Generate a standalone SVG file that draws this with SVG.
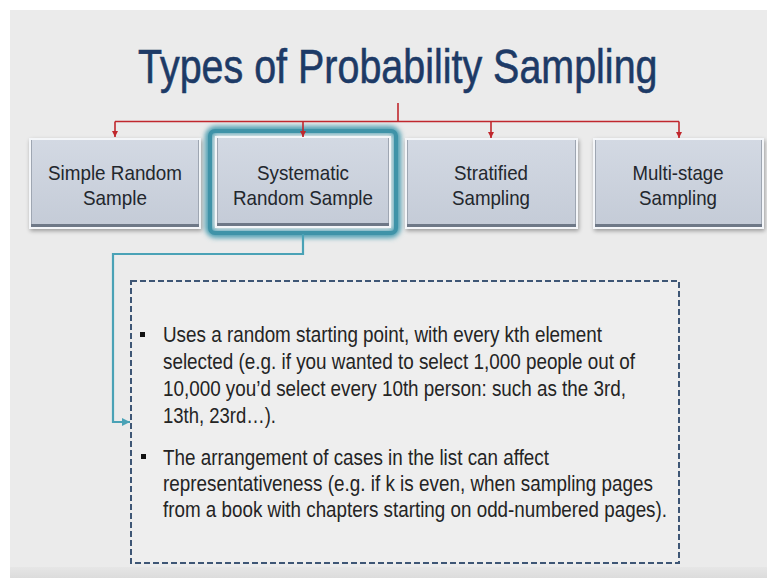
<svg xmlns="http://www.w3.org/2000/svg" width="767" height="578" viewBox="0 0 767 578">
  <defs>
    <style>
      .title { font-family: "Liberation Sans", Arial, sans-serif; font-size: 49px; fill: #1d3a66; stroke: #1d3a66; stroke-width: 0.6; }
      .label { font-family: "Liberation Sans", Arial, sans-serif; font-size: 21px; fill: #23272d; text-anchor: middle; }
      .body { font-family: "Liberation Sans", Arial, sans-serif; font-size: 22.5px; fill: #242424; }
      .tree { fill: none; stroke: #c0272d; stroke-width: 1.6; }
      .link { fill: none; stroke: #4aa2b6; stroke-width: 2.2; }
      .box-face { fill: url(#face); stroke: #f4f6f9; stroke-width: 2; }
      .box-base { stroke: #6e7887; stroke-width: 3; }
      .box-side { stroke: #9ea6b2; stroke-width: 1; }
    </style>
    <linearGradient id="face" x1="0" y1="0" x2="0" y2="1">
      <stop offset="0" stop-color="#d3d9e3"/>
      <stop offset="1" stop-color="#c4cbd7"/>
    </linearGradient>
    <linearGradient id="floor" x1="0" y1="0" x2="0" y2="1">
      <stop offset="0" stop-color="#e6e6e6"/>
      <stop offset="1" stop-color="#dcdcdc"/>
    </linearGradient>
    <filter id="shadow" x="-10%" y="-10%" width="120%" height="130%">
      <feGaussianBlur in="SourceAlpha" stdDeviation="2"/>
      <feOffset dx="1" dy="2" result="b"/>
      <feComponentTransfer><feFuncA type="linear" slope="0.35"/></feComponentTransfer>
      <feMerge><feMergeNode/><feMergeNode in="SourceGraphic"/></feMerge>
    </filter>
    <filter id="glow" x="-20%" y="-30%" width="140%" height="160%">
      <feGaussianBlur stdDeviation="2.5"/>
    </filter>
    <marker id="redhead" viewBox="0 0 10 10" refX="10" refY="5" markerWidth="6" markerHeight="6" orient="auto" markerUnits="userSpaceOnUse">
      <path d="M0,0 L10,5 L0,10 Z" fill="#c0272d"/>
    </marker>
    <marker id="tealhead" viewBox="0 0 10 10" refX="10" refY="5" markerWidth="8" markerHeight="8" orient="auto" markerUnits="userSpaceOnUse">
      <path d="M0,0 L10,5 L0,10 Z" fill="#4aa2b6"/>
    </marker>
  </defs>

  <!-- page and slide surface -->
  <rect x="0" y="0" width="767" height="578" fill="#ffffff"/>
  <rect x="10" y="10" width="757" height="568" fill="#ebebeb"/>
  <rect x="10" y="567" width="757" height="11" fill="url(#floor)"/>

  <!-- condensed heading -->
  <g transform="translate(138,83) scale(0.805,1)">
    <text class="title" x="0" y="0">Types of Probability Sampling</text>
  </g>

  <!-- sampling types -->
  <g id="simple-random">
    <rect class="box-face" x="30" y="139" width="170" height="89" filter="url(#shadow)"/>
    <line class="box-side" x1="31.5" y1="140" x2="31.5" y2="226"/>
    <line class="box-side" x1="198.5" y1="140" x2="198.5" y2="226"/>
    <line class="box-base" x1="31" y1="225.5" x2="199" y2="225.5"/>
    <text class="label" x="115" y="180" textLength="134" lengthAdjust="spacingAndGlyphs">Simple Random</text>
    <text class="label" x="115" y="205" textLength="64" lengthAdjust="spacingAndGlyphs">Sample</text>
  </g>

  <g id="systematic-random">
    <rect x="209" y="130" width="188" height="104" rx="7" fill="none" stroke="#4d9fb2" stroke-width="8" filter="url(#glow)"/>
    <rect x="210" y="131" width="186" height="102" rx="5" fill="none" stroke="#3f93a8" stroke-width="4"/>
    <rect class="box-face" x="216" y="137" width="174" height="90"/>
    <line class="box-side" x1="217.5" y1="138" x2="217.5" y2="225"/>
    <line class="box-side" x1="388.5" y1="138" x2="388.5" y2="225"/>
    <line class="box-base" x1="217" y1="224.5" x2="389" y2="224.5"/>
    <text class="label" x="303" y="180" textLength="92" lengthAdjust="spacingAndGlyphs">Systematic</text>
    <text class="label" x="303" y="205" textLength="140" lengthAdjust="spacingAndGlyphs">Random Sample</text>
  </g>

  <g id="stratified">
    <rect class="box-face" x="406" y="139" width="171" height="89" filter="url(#shadow)"/>
    <line class="box-side" x1="407.5" y1="140" x2="407.5" y2="226"/>
    <line class="box-side" x1="575.5" y1="140" x2="575.5" y2="226"/>
    <line class="box-base" x1="407" y1="225.5" x2="576" y2="225.5"/>
    <text class="label" x="491" y="180" textLength="74" lengthAdjust="spacingAndGlyphs">Stratified</text>
    <text class="label" x="491" y="205" textLength="78" lengthAdjust="spacingAndGlyphs">Sampling</text>
  </g>

  <g id="multi-stage">
    <rect class="box-face" x="594" y="139" width="169" height="89" filter="url(#shadow)"/>
    <line class="box-side" x1="595.5" y1="140" x2="595.5" y2="226"/>
    <line class="box-side" x1="761.5" y1="140" x2="761.5" y2="226"/>
    <line class="box-base" x1="595" y1="225.5" x2="762" y2="225.5"/>
    <text class="label" x="678" y="180" textLength="91" lengthAdjust="spacingAndGlyphs">Multi-stage</text>
    <text class="label" x="678" y="205" textLength="78" lengthAdjust="spacingAndGlyphs">Sampling</text>
  </g>

  <!-- description of systematic sampling -->
  <g id="systematic-notes">
    <rect x="131" y="281" width="548" height="282" fill="#eeeeee" stroke="#3e5675" stroke-width="2" stroke-dasharray="6 3"/>
    <rect x="140" y="332" width="5" height="5" fill="#111111"/>
    <text class="body" x="163" y="342" textLength="439" lengthAdjust="spacingAndGlyphs">Uses a random starting point, with every kth element</text>
    <text class="body" x="163" y="369" textLength="472" lengthAdjust="spacingAndGlyphs">selected (e.g. if you wanted to select 1,000 people out of</text>
    <text class="body" x="163" y="396" textLength="463" lengthAdjust="spacingAndGlyphs">10,000 you’d select every 10th person: such as the 3rd,</text>
    <text class="body" x="163" y="423" textLength="113" lengthAdjust="spacingAndGlyphs">13th, 23rd…).</text>
    <rect x="141" y="454" width="5" height="5" fill="#111111"/>
    <text class="body" x="163" y="465" textLength="386" lengthAdjust="spacingAndGlyphs">The arrangement of cases in the list can affect</text>
    <text class="body" x="163" y="491" textLength="490" lengthAdjust="spacingAndGlyphs">representativeness (e.g. if k is even, when sampling pages</text>
    <text class="body" x="163" y="517" textLength="504" lengthAdjust="spacingAndGlyphs">from a book with chapters starting on odd-numbered pages).</text>
  </g>

  <!-- connectors, drawn above the nodes so the arrowheads stay visible -->
  <g id="connectors">
    <path class="tree" d="M398,103 V121.5"/>
    <path class="tree" d="M115,121.5 H679"/>
    <path class="tree" d="M115,121.5 V137" marker-end="url(#redhead)"/>
    <path class="tree" d="M303,121.5 V137" marker-end="url(#redhead)"/>
    <path class="tree" d="M491,121.5 V138" marker-end="url(#redhead)"/>
    <path class="tree" d="M679,121.5 V138" marker-end="url(#redhead)"/>
    <path class="link" d="M303,234 V254 H113 V422 H130" marker-end="url(#tealhead)"/>
  </g>
</svg>
